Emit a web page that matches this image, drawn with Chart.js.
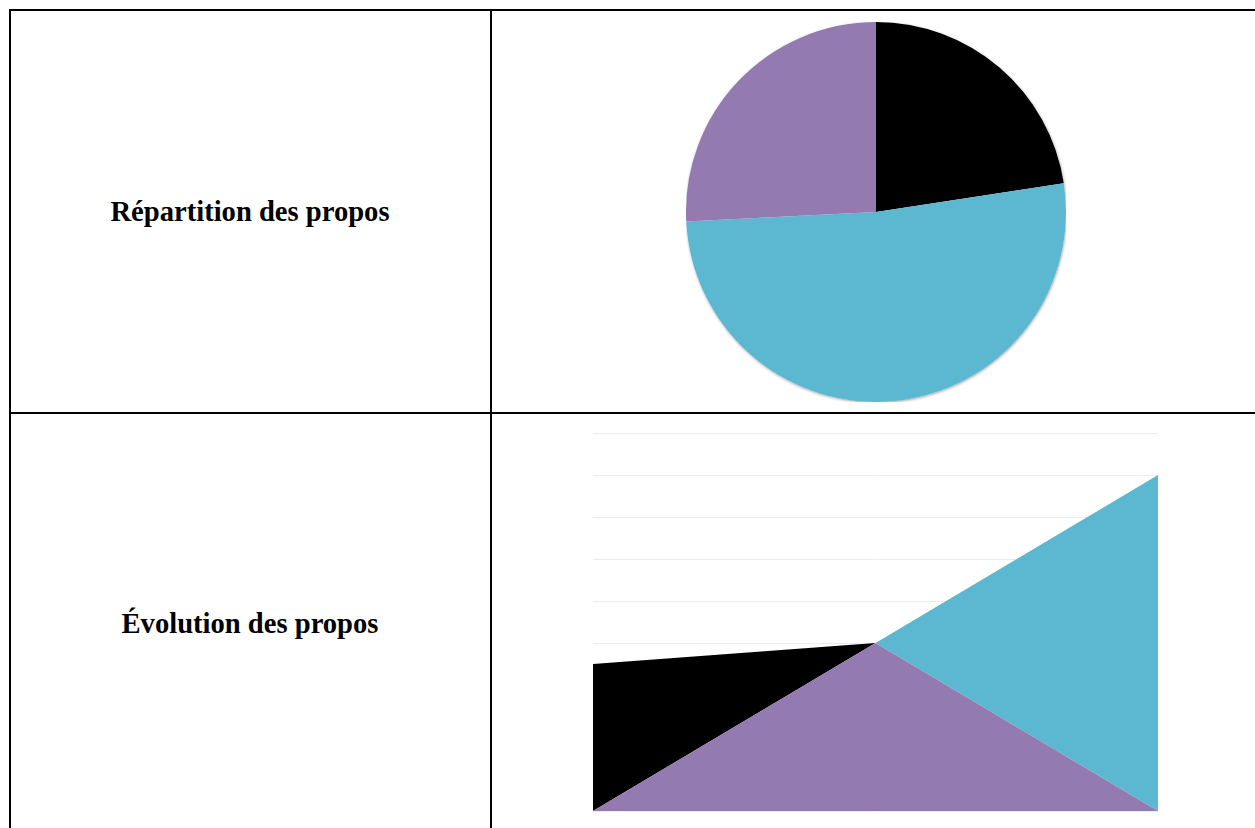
<!DOCTYPE html>
<html lang="fr">
<head>
<meta charset="utf-8">
<script src="https://cdn.jsdelivr.net/npm/chart.js@4.4.1/dist/chart.umd.min.js"></script>
<style>
  html, body { margin: 0; padding: 0; background: #ffffff; width: 1255px; height: 828px; overflow: hidden; }
  .line { position: absolute; background: #000; }
  .label { position: absolute; width: 480px; text-align: center; font-family: "Liberation Serif", "DejaVu Serif", serif; font-weight: bold; font-size: 28.6px; color: #000; line-height: 30px; }
  .box { position: absolute; }
</style>
</head>
<body>
<!-- table borders -->
<div class="line" style="left:9px; top:9px; width:1246px; height:2px;"></div>
<div class="line" style="left:9px; top:412px; width:1246px; height:2px;"></div>
<div class="line" style="left:9px; top:9px; width:2px; height:819px;"></div>
<div class="line" style="left:490px; top:9px; width:2px; height:819px;"></div>

<div class="label" id="lab1" style="left:10px; top:197px;"></div>
<div class="label" id="lab2" style="left:10px; top:609px;"></div>

<div class="box" style="left:686px; top:22px; width:380px; height:380px;"><canvas id="pie"></canvas></div>
<div class="box" style="left:593px; top:427px; width:565px; height:389px;"><canvas id="area"></canvas></div>

<script>
// ---- data ----
const rowTitles = ["Répartition des propos", "Évolution des propos"];
const seriesNames = ["Série 1", "Série 2", "Série 3"];
const seriesColors = ["#000000", "#5bb8d0", "#937bb2"];
const pieValues = [7, 16, 8];
const periods = ["1", "2", "3"];
const serie1 = [7, 0, 0];   // black
const serie2 = [0, 0, 16];  // cyan
const serie3 = [0, 8, 0];   // purple
const yMax = 18;
const yStep = 2;

document.getElementById('lab1').textContent = rowTitles[0];
document.getElementById('lab2').textContent = rowTitles[1];

const pieShadow = {
  id: 'pieShadow',
  beforeDatasetsDraw(chart) {
    const ctx = chart.ctx;
    const meta = chart.getDatasetMeta(0);
    const arc = meta.data[0];
    if (!arc) return;
    ctx.save();
    ctx.beginPath();
    ctx.arc(arc.x, arc.y, arc.outerRadius, 0, Math.PI * 2);
    ctx.shadowColor = 'rgba(0,0,0,0.35)';
    ctx.shadowBlur = 3;
    ctx.shadowOffsetX = 0.5;
    ctx.shadowOffsetY = 1;
    ctx.fillStyle = '#ffffff';
    ctx.fill();
    ctx.restore();
  }
};

new Chart(document.getElementById('pie'), {
  type: 'pie',
  data: {
    labels: seriesNames,
    datasets: [{
      data: pieValues,
      backgroundColor: seriesColors,
      borderWidth: 0,
      hoverOffset: 0
    }]
  },
  options: {
    responsive: true,
    maintainAspectRatio: false,
    animation: false,
    layout: { padding: 0 },
    plugins: { legend: { display: false }, tooltip: { enabled: false } }
  },
  plugins: [pieShadow]
});

new Chart(document.getElementById('area'), {
  type: 'line',
  data: {
    labels: periods,
    datasets: [
      { label: seriesNames[2], data: serie3, backgroundColor: seriesColors[2], borderColor: seriesColors[2], borderWidth: 0, fill: 'origin', pointRadius: 0, tension: 0 },
      { label: seriesNames[0], data: serie1, backgroundColor: seriesColors[0], borderColor: seriesColors[0], borderWidth: 0, fill: '-1', pointRadius: 0, tension: 0 },
      { label: seriesNames[1], data: serie2, backgroundColor: seriesColors[1], borderColor: seriesColors[1], borderWidth: 0, fill: '-1', pointRadius: 0, tension: 0 }
    ]
  },
  options: {
    responsive: true,
    maintainAspectRatio: false,
    animation: false,
    layout: { padding: { top: 6, bottom: 5, left: 0, right: 0 } },
    plugins: { legend: { display: false }, tooltip: { enabled: false }, filler: { propagate: false } },
    scales: {
      x: { display: false, offset: false },
      y: {
        stacked: true,
        min: 0, max: yMax,
        ticks: { display: false, stepSize: yStep },
        grid: { color: '#ececec', lineWidth: 1, drawTicks: false },
        border: { display: false }
      }
    }
  }
});
</script>
</body>
</html>
